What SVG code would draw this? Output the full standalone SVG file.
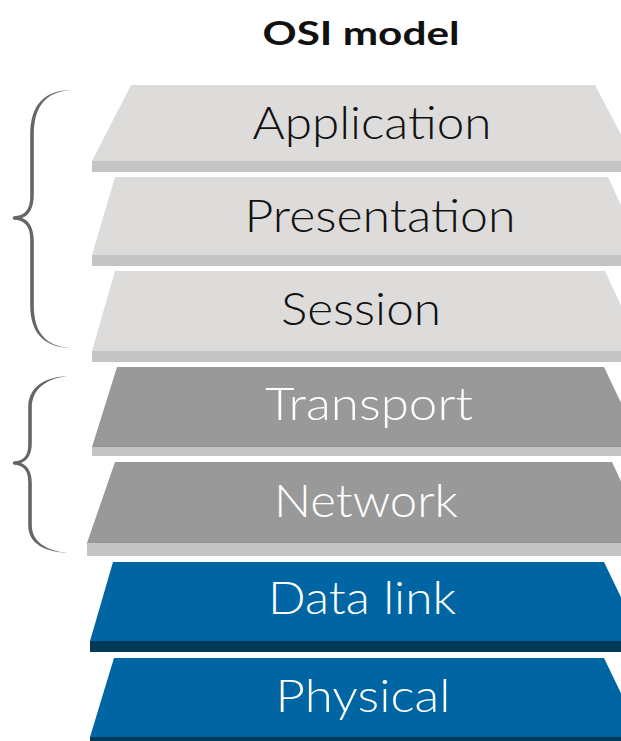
<svg xmlns="http://www.w3.org/2000/svg" width="621" height="741" viewBox="0 0 621 741">
  <style>
    .title { font-family: Lato, "Open Sans", "Liberation Sans", sans-serif; font-weight: 700; font-size: 33px; fill: #111; text-anchor: middle; }
    .lbl { font-family: Lato, "Open Sans", "Liberation Sans", sans-serif; font-weight: 300; font-size: 46px; text-anchor: middle; }
    .dark { fill: #111; }
    .light { fill: #fff; }
    .top-upper { fill: #dddcdb; }
    .top-mid { fill: #999999; }
    .top-low { fill: #0066a3; }
    .edge-grey { fill: #c4c4c4; }
    .edge-blue { fill: #003a57; }
    .brace { fill: #666; }
  </style>
  <rect width="621" height="741" fill="#fff"/>

  <text class="title" x="361" y="45" textLength="197" lengthAdjust="spacingAndGlyphs">OSI model</text>

  <!-- curly braces grouping the layers -->
  <g id="braces">
    <path class="brace" d="M71,90 C46,90.5 30.2,103 30.2,135 L30.2,197 C30.2,210 24,216 14,216.2 A1.9,1.9 0 0 0 14,219.8 C24,220 30.2,226 30.2,239 L30.2,305 C30.2,335 46,347.5 71,348 C47,346.5 33.8,334 33.8,305 L33.8,241 C33.8,228 29,220.5 22,218 C29,215.5 33.8,208 33.8,195 L33.8,135 C33.8,105 47,91.5 71,90 Z"/>
    <path class="brace" d="M68,376 C47,377 28.2,385 28.2,408 L28.2,445 C28.2,456 23,461 14,461.3 A1.8,1.8 0 0 0 14,464.7 C23,465 28.2,470 28.2,481 L28.2,525 C28.2,545 47,552 68,553 C48,551 31.8,543 31.8,525 L31.8,483 C31.8,472 28,466 21,463 C28,460 31.8,454 31.8,443 L31.8,408 C31.8,388 48,378 68,376 Z"/>
  </g>

  <g id="application">
    <polygon class="top-upper" points="131,85 595,85 635,161 92,161"/>
    <rect class="edge-grey" x="92" y="161" width="540" height="11"/>
    <text class="lbl dark" x="372" y="139" textLength="239" lengthAdjust="spacingAndGlyphs">Application</text>
  </g>

  <g id="presentation">
    <polygon class="top-upper" points="115,177 608,177 644,255 92,255"/>
    <rect class="edge-grey" x="92" y="255" width="540" height="11"/>
    <text class="lbl dark" x="380" y="232" textLength="271" lengthAdjust="spacingAndGlyphs">Presentation</text>
  </g>

  <g id="session">
    <polygon class="top-upper" points="115,271 605,271 642,351 92,351"/>
    <rect class="edge-grey" x="92" y="351" width="540" height="11"/>
    <text class="lbl dark" x="361" y="325" textLength="160" lengthAdjust="spacingAndGlyphs">Session</text>
  </g>

  <g id="transport">
    <polygon class="top-mid" points="117,367 604,367 642,447 92,447"/>
    <rect class="edge-grey" x="92" y="447" width="540" height="9"/>
    <text class="lbl light" x="369" y="420" textLength="208" lengthAdjust="spacingAndGlyphs">Transport</text>
  </g>

  <g id="network">
    <polygon class="top-mid" points="115,462 612,462 650,543 87,543"/>
    <rect class="edge-grey" x="87" y="543" width="545" height="13"/>
    <text class="lbl light" x="366" y="517" textLength="184" lengthAdjust="spacingAndGlyphs">Network</text>
  </g>

  <g id="data-link">
    <polygon class="top-low" points="113,562 604,562 642,641 90,641"/>
    <rect class="edge-blue" x="90" y="641" width="542" height="11"/>
    <text class="lbl light" x="362" y="614" textLength="188" lengthAdjust="spacingAndGlyphs">Data link</text>
  </g>

  <g id="physical">
    <polygon class="top-low" points="114,658 604,658 642,737 90,737"/>
    <rect class="edge-blue" x="90" y="737" width="542" height="6"/>
    <text class="lbl light" x="363" y="712" textLength="175" lengthAdjust="spacingAndGlyphs">Physical</text>
  </g>
</svg>
